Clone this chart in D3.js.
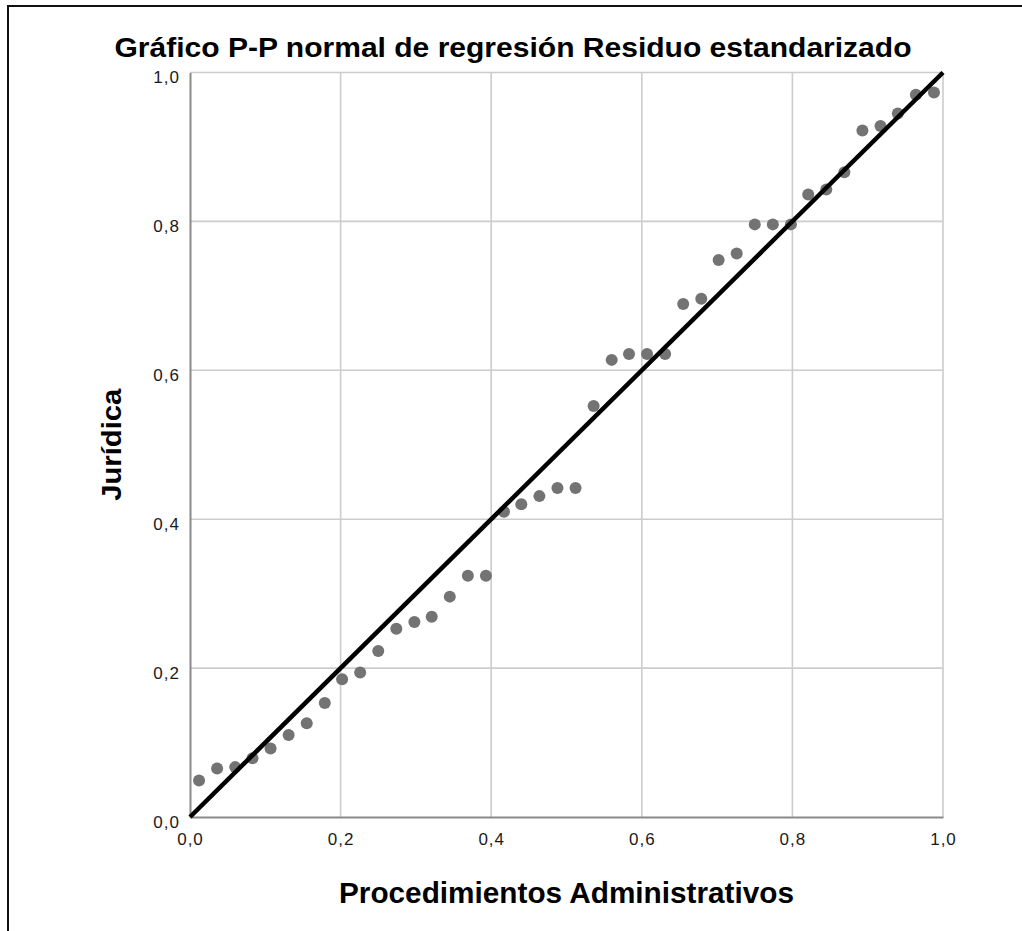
<!DOCTYPE html>
<html>
<head>
<meta charset="utf-8">
<script src="https://cdn.jsdelivr.net/npm/d3@7"></script>
<style>
  body { margin: 0; background: #fff; }
  svg { display: block; font-family: "Liberation Sans", Arial, sans-serif; }
</style>
</head>
<body>
<svg width="1022" height="931"></svg>
<script>
var probObs = [0.012, 0.036, 0.060, 0.083, 0.107, 0.131, 0.155, 0.179, 0.202, 0.226,
  0.250, 0.274, 0.298, 0.321, 0.345, 0.369, 0.393, 0.417, 0.440, 0.464,
  0.488, 0.512, 0.536, 0.560, 0.583, 0.607, 0.631, 0.655, 0.679, 0.702,
  0.726, 0.750, 0.774, 0.798, 0.821, 0.845, 0.869, 0.893, 0.917, 0.940,
  0.964, 0.988];
var probExp = [0.049, 0.065, 0.067, 0.079, 0.092, 0.110, 0.126, 0.153, 0.185, 0.194,
  0.223, 0.253, 0.262, 0.269, 0.296, 0.324, 0.324, 0.410, 0.420, 0.431,
  0.442, 0.442, 0.552, 0.614, 0.622, 0.622, 0.622, 0.689, 0.696, 0.748,
  0.757, 0.796, 0.796, 0.796, 0.836, 0.843, 0.866, 0.922, 0.928, 0.945,
  0.970, 0.973];
var tickVals = [0, 0.2, 0.4, 0.6, 0.8, 1.0];
var titleText = "Gráfico P-P normal de regresión Residuo estandarizado";
var xTitle = "Procedimientos Administrativos";
var yTitle = "Jurídica";

var svg = d3.select("svg");
var margin = {top: 72.5, left: 190, right: 1022 - 943, bottom: 931 - 817};
var width = 943 - margin.left, height = 817 - margin.top;

// outer frame (only left and top edges are visible in the picture)
svg.append("rect")
  .attr("x", 8).attr("y", 6)
  .attr("width", 1040).attr("height", 960)
  .attr("fill", "none").attr("stroke", "#111").attr("stroke-width", 2);

var x = d3.scaleLinear().domain([0, 1]).range([0, width]);
var y = d3.scaleLinear().domain([0, 1]).range([height, 0]);
var fmt = function(d) { return d3.format(".1f")(d).replace(".", ","); };

var g = svg.append("g")
  .attr("transform", "translate(" + margin.left + "," + margin.top + ")");

// grid
g.selectAll(".vgrid").data(tickVals.slice(1)).enter().append("line")
  .attr("x1", x).attr("x2", x).attr("y1", 0).attr("y2", height)
  .attr("stroke", "#cccccc").attr("stroke-width", 1.6);
g.selectAll(".hgrid").data(tickVals.slice(1)).enter().append("line")
  .attr("x1", 0).attr("x2", width).attr("y1", y).attr("y2", y)
  .attr("stroke", "#cccccc").attr("stroke-width", 1.6);

// axes
var xAxis = g.append("g")
  .attr("transform", "translate(0," + height + ")")
  .call(d3.axisBottom(x).tickValues(tickVals).tickFormat(fmt).tickSize(0).tickPadding(0));
var yAxis = g.append("g")
  .call(d3.axisLeft(y).tickValues(tickVals).tickFormat(fmt).tickSize(0).tickPadding(10));
[xAxis, yAxis].forEach(function(a) {
  a.select(".domain").attr("stroke", "#8a8a8a").attr("stroke-width", 2);
  a.selectAll("text").attr("fill", "#1a1a1a")
    .style("font-size", "17px").style("letter-spacing", "1px")
    .style("font-family", "'Liberation Sans', Arial, sans-serif");
});
xAxis.selectAll("text").attr("y", 28).attr("dy", null);
yAxis.selectAll("text").attr("y", 10).attr("dy", null);

// points
g.selectAll(".dot").data(probObs).enter().append("circle")
  .attr("cx", function(d) { return x(d); })
  .attr("cy", function(d, i) { return y(probExp[i]); })
  .attr("r", 6)
  .attr("fill", "#737373");

// reference diagonal
g.append("line")
  .attr("x1", x(0)).attr("y1", y(0)).attr("x2", x(1)).attr("y2", y(1))
  .attr("stroke", "#000").attr("stroke-width", 4.5);

// titles
svg.append("text")
  .attr("x", 513).attr("y", 57)
  .attr("text-anchor", "middle")
  .attr("textLength", 797).attr("lengthAdjust", "spacingAndGlyphs")
  .style("font-size", "27px").style("font-weight", "bold")
  .text(titleText);
svg.append("text")
  .attr("x", margin.left + width / 2).attr("y", 903)
  .attr("text-anchor", "middle")
  .attr("textLength", 455).attr("lengthAdjust", "spacingAndGlyphs")
  .style("font-size", "29px").style("font-weight", "bold")
  .text(xTitle);
svg.append("text")
  .attr("transform", "translate(121," + (margin.top + height / 2) + ") rotate(-90)")
  .attr("text-anchor", "middle")
  .attr("textLength", 112).attr("lengthAdjust", "spacingAndGlyphs")
  .style("font-size", "28px").style("font-weight", "bold")
  .text(yTitle);
</script>
</body>
</html>
